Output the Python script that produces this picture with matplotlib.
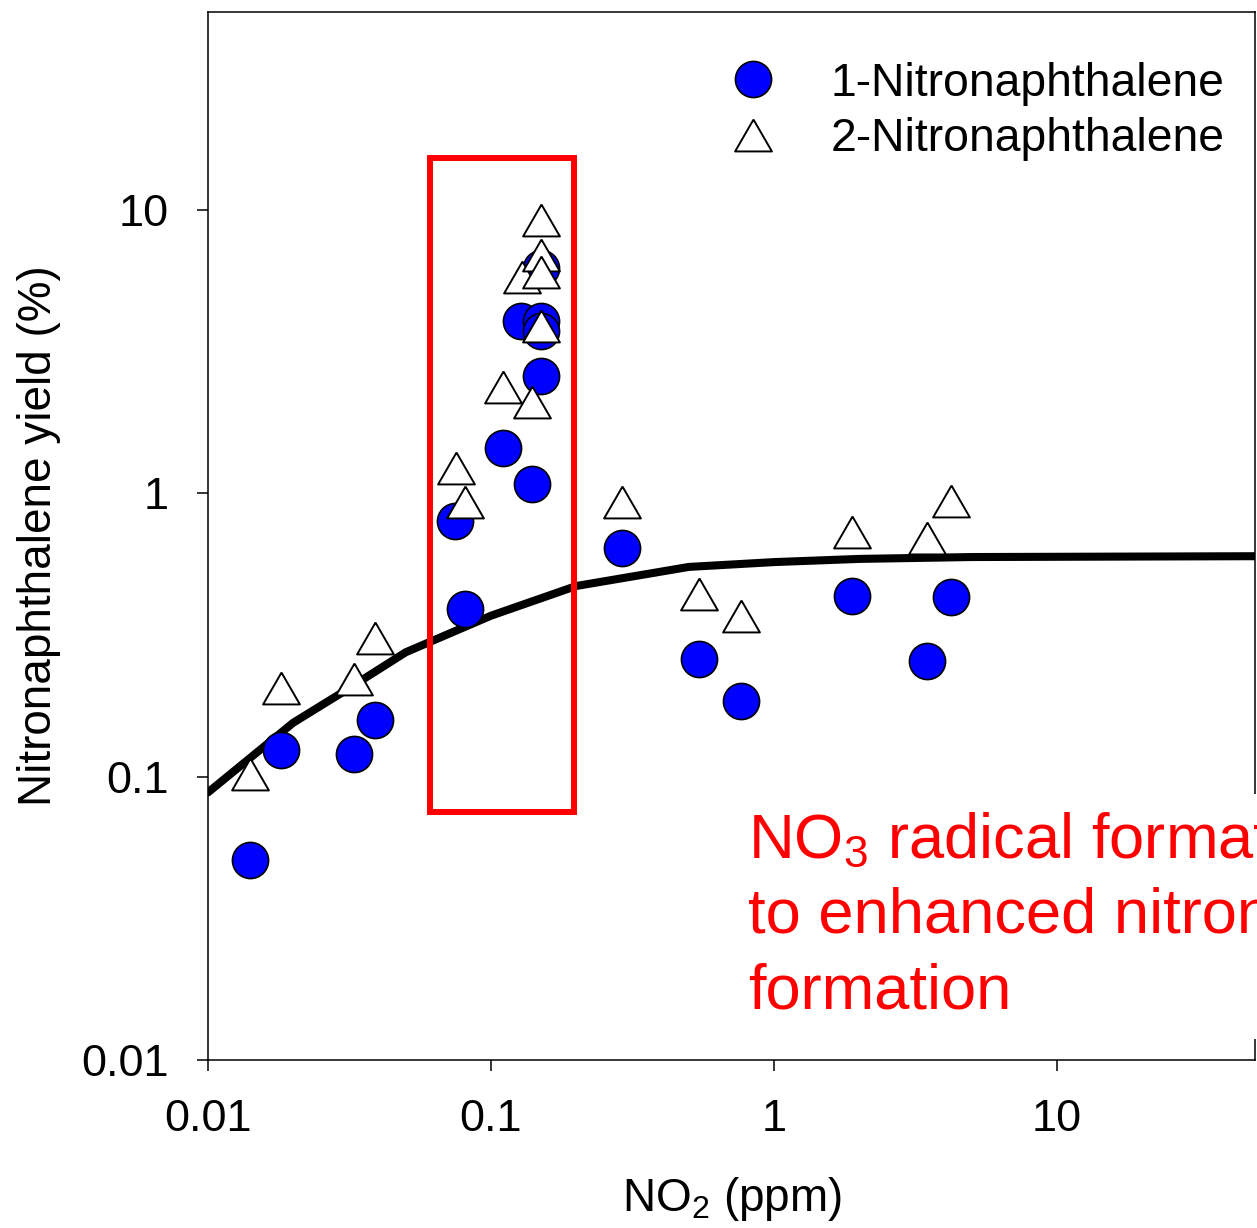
import numpy as np
import matplotlib
matplotlib.use("Agg")
import matplotlib.pyplot as plt
from matplotlib.patches import Rectangle

plt.rcParams['font.family'] = ['Liberation Sans', 'DejaVu Sans']
plt.rcParams['mathtext.default'] = 'regular'

# 1-nitronaphthalene yields vs NO2 mixing ratio
nn1_no2 = [0.0141, 0.0181, 0.0328, 0.0389, 0.0745, 0.0808, 0.110, 0.140, 0.150, 0.128,
           0.150, 0.150, 0.150, 0.289, 0.541, 0.761, 1.89, 3.48, 4.20]
nn1_yield = [0.051, 0.124, 0.120, 0.158, 0.80, 0.39, 1.45, 1.08, 2.59, 4.06,
             4.06, 3.74, 6.24, 0.64, 0.26, 0.185, 0.434, 0.256, 0.431]

# 2-nitronaphthalene yields
nn2_no2 = [0.0141, 0.0181, 0.0328, 0.0389, 0.0750, 0.0808, 0.110, 0.140, 0.150, 0.129,
           0.150, 0.150, 0.150, 0.289, 0.541, 0.761, 1.89, 3.48, 4.20]
nn2_yield = [0.102, 0.206, 0.221, 0.308, 1.23, 0.93, 2.37, 2.10, 3.89, 5.80,
             6.93, 6.04, 9.22, 0.93, 0.441, 0.369, 0.730, 0.695, 0.940]

# model curve
model_no2 = [0.01, 0.02, 0.03, 0.05, 0.1, 0.2, 0.5, 1, 2, 5, 50]
model_yield = [0.088, 0.155, 0.199, 0.275, 0.37, 0.471, 0.550, 0.572, 0.587, 0.596, 0.600]

# highlighted NO3 region (x0, x1, y0, y1)
box_x = [0.0608, 0.196]
box_y = [0.075, 15.3]

tick_vals = [0.01, 0.1, 1, 10]
tick_labels = ['0.01', '0.1', '1', '10']

W, H = 1257, 1228
fig = plt.figure(figsize=(W / 100, H / 100), dpi=100)
ax = fig.add_axes([208 / W, 1 - 1060 / H, (1255 - 208) / W, (1060 - 12) / H])

ax.plot(model_no2, model_yield, color='black', lw=5.8, zorder=3, solid_capstyle='round')
ax.plot(nn1_no2, nn1_yield, ls='none', marker='o', ms=26, mfc='#0000ff', mec='black',
        mew=1.2, zorder=4, label='1-Nitronaphthalene')
tri = [(0, 0.866), (-1, -0.866), (1, -0.866), (0, 0.866)]
ax.plot(nn2_no2, nn2_yield, ls='none', marker=tri, ms=26.5, mfc='white', mec='black',
        mew=1.4, zorder=5, label='2-Nitronaphthalene')

ax.add_patch(Rectangle((box_x[0], box_y[0]), box_x[1] - box_x[0], box_y[1] - box_y[0],
                       fill=False, edgecolor='#ff0000', lw=4.3, zorder=6))

ax.set_xscale('log')
ax.set_yscale('log')
ax.set_xlim(0.01, 50)
ax.set_ylim(0.01, 50)
ax.set_xticks(tick_vals)
ax.set_xticklabels(tick_labels)
ax.set_yticks(tick_vals)
ax.set_yticklabels(tick_labels)
ax.minorticks_off()
ax.tick_params(direction='out', length=8, width=1.1, labelsize=32.5, pad=20)
for s in ax.spines.values():
    s.set_linewidth(1.1)

ax.set_ylabel('Nitronaphthalene yield (%)', fontsize=33)
ax.yaxis.set_label_coords(-0.14, 0.5)
ax.set_xlabel('NO$_2$ (ppm)', fontsize=33)
ax.xaxis.set_label_coords(0.5, -0.110)

ax.legend(loc='upper right', bbox_to_anchor=(1.004, 0.9857), frameon=False, fontsize=33.3,
          handlelength=1.0, handletextpad=1.17, labelspacing=0.25,
          borderaxespad=0.35, borderpad=0.4, markerscale=1.0)

fig.text(748 / W, 1 - 812 / H,
         'NO$_3$ radical formation leads\nto enhanced nitronaphthalene\nformation',
         color='#ff0000', fontsize=45.5, ha='left', va='top', linespacing=1.35,
         bbox=dict(facecolor='white', edgecolor='none', boxstyle='square,pad=0.28'))

fig.savefig('out.png', dpi=100)
